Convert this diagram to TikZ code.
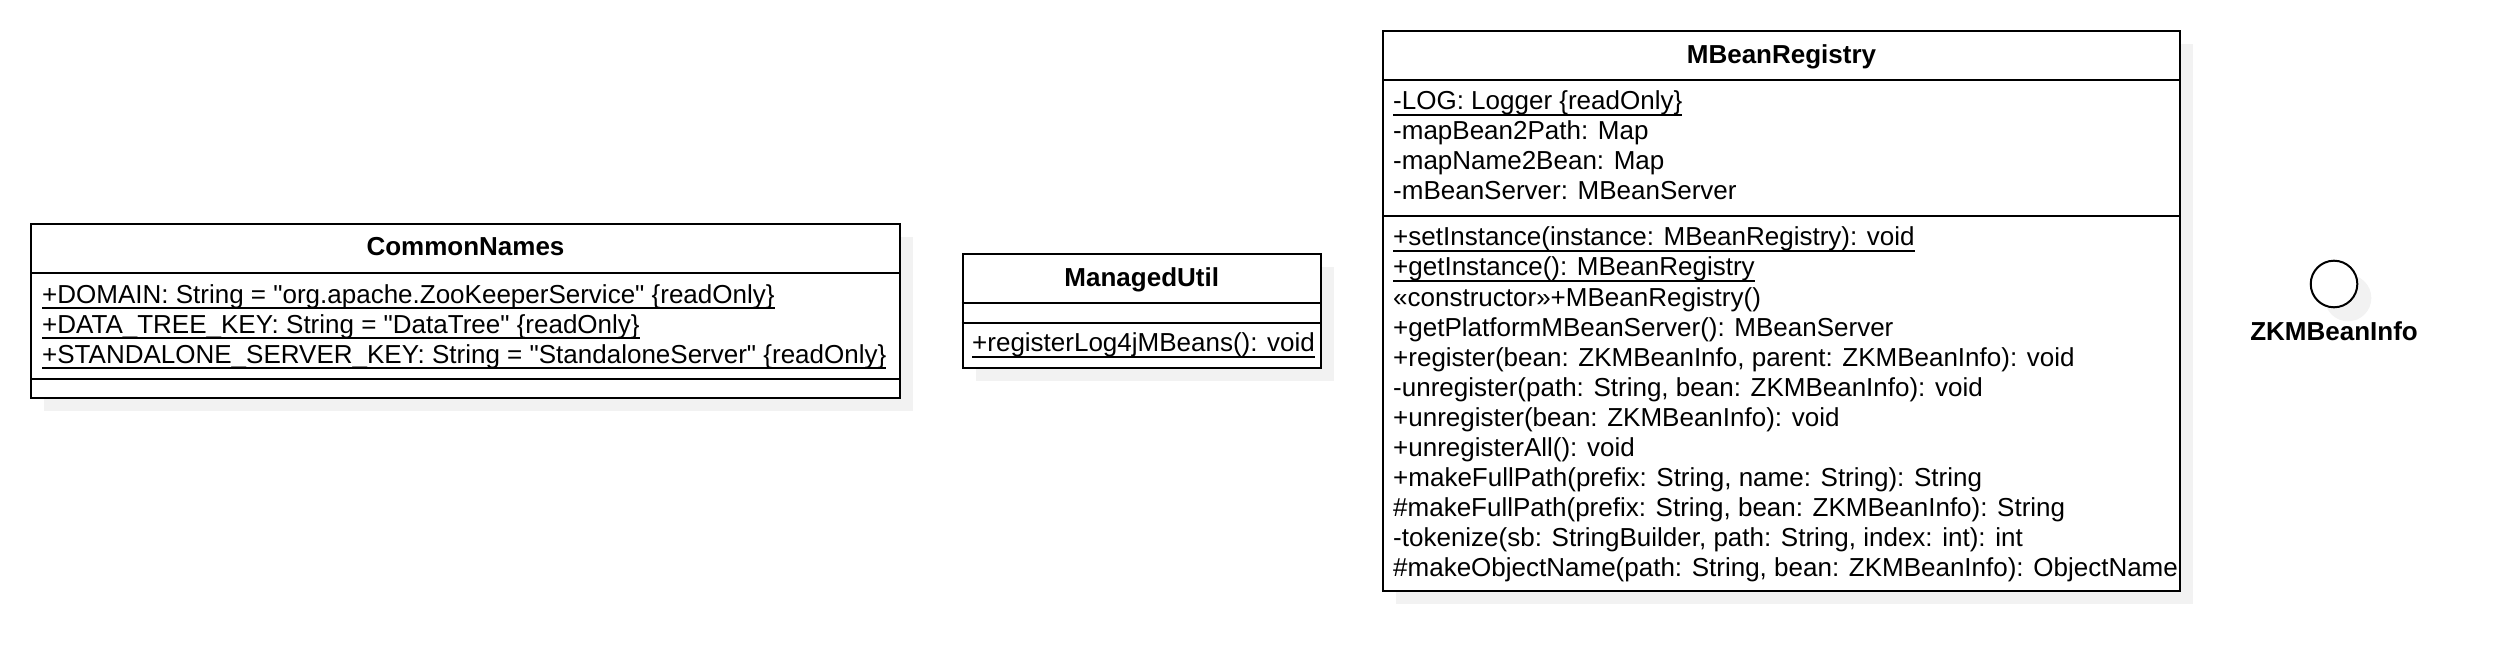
\documentclass[tikz,border=0pt]{standalone}
\usepackage{fontspec}
\setmainfont{Liberation Sans}[Ligatures=TeXOff]
\usetikzlibrary{calc}
\definecolor{shadowgray}{HTML}{F2F2F2}
\newsavebox\ulbox
\newcommand\statm[1]{\sbox\ulbox{#1}\rlap{\rule[-6pt]{\wd\ulbox}{1.6pt}}\usebox\ulbox}
\tikzset{
  umlbox/.style={draw=black, line width=2pt, fill=white, inner sep=0pt, anchor=north west},
  sepline/.style={line width=2pt},
  shadowfill/.style={fill=shadowgray},
  mem/.style={anchor=base west, inner sep=0pt, font=\fontsize{26}{30}\selectfont},
  ttl/.style={anchor=base, inner sep=0pt, font=\fontsize{26}{30}\selectfont\bfseries},
}
\begin{document}
\begin{tikzpicture}[x=1pt,y=-1pt]
\useasboundingbox (0,0) rectangle (2496,660);

% ---------- CommonNames ----------
\coordinate (cnNW) at (30,223);
\fill[shadowfill] ($(cnNW)+(14,14)$) rectangle ($(cnNW)+(883,188)$);
\node[umlbox, minimum width=869pt, minimum height=174pt] (cn) at (cnNW) {};
\draw[sepline] ($(cn.north west)+(0,49.5)$) -- ($(cn.north east)+(0,49.5)$);
\draw[sepline] ($(cn.north west)+(0,156)$) -- ($(cn.north east)+(0,156)$);
\node[ttl] (cnT) at ($(cn.north)+(0,32)$) {CommonNames};
\node[mem] (cn1) at (42,303) {\statm{+DOMAIN: String = "org.apache.ZooKeeperService" \{readOnly\}}};
\node[mem] (cn2) at (42,333) {\statm{+DATA\_TREE\_KEY: String = "DataTree" \{readOnly\}}};
\node[mem] (cn3) at (42,363) {\statm{+STANDALONE\_SERVER\_KEY: String = "StandaloneServer" \{readOnly\}}};

% ---------- ManagedUtil ----------
\coordinate (muNW) at (961.5,253);
\fill[shadowfill] ($(muNW)+(14,14)$) rectangle ($(muNW)+(372.5,127.5)$);
\node[umlbox, minimum width=358.5pt, minimum height=113.5pt] (mu) at (muNW) {};
\draw[sepline] ($(mu.north west)+(0,49.5)$) -- ($(mu.north east)+(0,49.5)$);
\draw[sepline] ($(mu.north west)+(0,69.7)$) -- ($(mu.north east)+(0,69.7)$);
\node[ttl] (muT) at ($(mu.north)+(0,33.7)$) {ManagedUtil};
\node[mem] (mu1) at (972,351.7) {\statm{+registerLog4jMBeans(): void}};

% ---------- MBeanRegistry ----------
\coordinate (mbNW) at (1382,30);
\fill[shadowfill] ($(mbNW)+(14,14)$) rectangle ($(mbNW)+(811,574)$);
\node[umlbox, minimum width=797pt, minimum height=560pt] (mb) at (mbNW) {};
\draw[sepline] ($(mb.north west)+(0,50)$) -- ($(mb.north east)+(0,50)$);
\draw[sepline] ($(mb.north west)+(0,186)$) -- ($(mb.north east)+(0,186)$);
\node[ttl] (mbT) at ($(mb.north)+(0,34)$) {MBeanRegistry};
\node[mem] (mba1) at (1393,110) {\statm{-LOG: Logger \{readOnly\}}};
\node[mem] (mba2) at (1393,140) {-mapBean2Path: Map};
\node[mem] (mba3) at (1393,170) {-mapName2Bean: Map};
\node[mem] (mba4) at (1393,200) {-mBeanServer: MBeanServer};
\node[mem] (mbm1) at (1393,246) {\statm{+setInstance(instance: MBeanRegistry): void}};
\node[mem] (mbm2) at (1393,276) {\statm{+getInstance(): MBeanRegistry}};
\node[mem] (mbm3) at (1393,306) {«constructor»+MBeanRegistry()};
\node[mem] (mbm4) at (1393,336) {+getPlatformMBeanServer(): MBeanServer};
\node[mem] (mbm5) at (1393,366) {+register(bean: ZKMBeanInfo, parent: ZKMBeanInfo): void};
\node[mem] (mbm6) at (1393,396) {-unregister(path: String, bean: ZKMBeanInfo): void};
\node[mem] (mbm7) at (1393,426) {+unregister(bean: ZKMBeanInfo): void};
\node[mem] (mbm8) at (1393,456) {+unregisterAll(): void};
\node[mem] (mbm9) at (1393,486) {+makeFullPath(prefix: String, name: String): String};
\node[mem] (mbm10) at (1393,516) {\#makeFullPath(prefix: String, bean: ZKMBeanInfo): String};
\node[mem] (mbm11) at (1393,546) {-tokenize(sb: StringBuilder, path: String, index: int): int};
\node[mem] (mbm12) at (1393,576) {\#makeObjectName(path: String, bean: ZKMBeanInfo): ObjectName};

% ---------- ZKMBeanInfo (interface) ----------
\coordinate (zkC) at (2334,284);
\fill[shadowfill] ($(zkC)+(14,14)$) circle[radius=23.3];
\node[circle, draw=black, line width=2pt, fill=white, inner sep=0pt, minimum size=46.6pt] (zk) at (zkC) {};
\node[ttl] (zkT) at (2334,340.7) {ZKMBeanInfo};
\end{tikzpicture}
\end{document}
